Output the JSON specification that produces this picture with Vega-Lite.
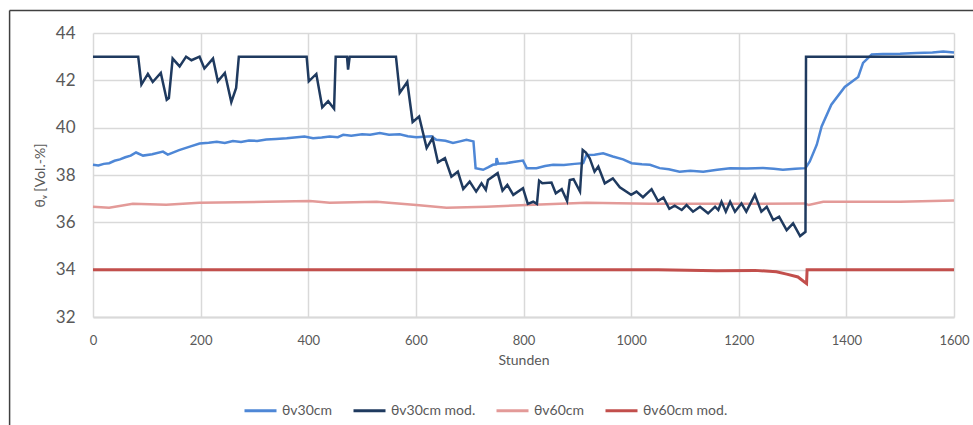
{
  "$schema": "https://vega.github.io/schema/vega-lite/v6.json",
  "width": 861,
  "height": 284,
  "autosize": {"type": "none"},
  "padding": {"left": 93, "top": 33, "right": 19, "bottom": 108},
  "background": "white",
  "config": {
    "font": "Lato",
    "view": {"stroke": null},
    "axisX": {
      "grid": true, "gridColor": "#d9d9d9", "gridWidth": 1.5,
      "domainColor": "#d9d9d9", "domainWidth": 2, "ticks": false,
      "labelColor": "#595959", "labelFontSize": 13, "labelPadding": 17, "labelFlush": false,
      "titleColor": "#595959", "titleFontSize": 14, "titleFontWeight": "normal", "titlePadding": 6
    },
    "axisY": {
      "grid": true, "gridColor": "#d9d9d9", "gridWidth": 1.5,
      "domain": false, "ticks": false,
      "labelColor": "#595959", "labelFontSize": 17, "labelPadding": 18,
      "titleColor": "#595959", "titleFontSize": 14, "titleFontWeight": "normal", "titlePadding": 8
    },
    "legend": {
      "orient": "none", "legendX": 150, "legendY": 360, "direction": "horizontal",
      "symbolType": "stroke", "symbolSize": 1024, "symbolStrokeWidth": 3,
      "labelFontSize": 14, "labelColor": "#595959", "labelOffset": 4, "columnPadding": 14
    }
  },
  "data": {"values": [
    {"s": "θv30cm mod.", "h": 0, "v": 43.0},
    {"s": "θv30cm mod.", "h": 84, "v": 43.0},
    {"s": "θv30cm mod.", "h": 90, "v": 41.82},
    {"s": "θv30cm mod.", "h": 102, "v": 42.27},
    {"s": "θv30cm mod.", "h": 111, "v": 41.93},
    {"s": "θv30cm mod.", "h": 126, "v": 42.31},
    {"s": "θv30cm mod.", "h": 137, "v": 41.18},
    {"s": "θv30cm mod.", "h": 141, "v": 41.25},
    {"s": "θv30cm mod.", "h": 148, "v": 42.92},
    {"s": "θv30cm mod.", "h": 161, "v": 42.59},
    {"s": "θv30cm mod.", "h": 173, "v": 43.0},
    {"s": "θv30cm mod.", "h": 183, "v": 42.85},
    {"s": "θv30cm mod.", "h": 198, "v": 43.0},
    {"s": "θv30cm mod.", "h": 207, "v": 42.5},
    {"s": "θv30cm mod.", "h": 223, "v": 42.92},
    {"s": "θv30cm mod.", "h": 232, "v": 41.96},
    {"s": "θv30cm mod.", "h": 245, "v": 42.31},
    {"s": "θv30cm mod.", "h": 257, "v": 41.08},
    {"s": "θv30cm mod.", "h": 266, "v": 41.68},
    {"s": "θv30cm mod.", "h": 271, "v": 43.0},
    {"s": "θv30cm mod.", "h": 397, "v": 43.0},
    {"s": "θv30cm mod.", "h": 401, "v": 41.96},
    {"s": "θv30cm mod.", "h": 415, "v": 42.27},
    {"s": "θv30cm mod.", "h": 426, "v": 40.86},
    {"s": "θv30cm mod.", "h": 437, "v": 41.12},
    {"s": "θv30cm mod.", "h": 448, "v": 40.8},
    {"s": "θv30cm mod.", "h": 451, "v": 43.0},
    {"s": "θv30cm mod.", "h": 472, "v": 43.0},
    {"s": "θv30cm mod.", "h": 474, "v": 42.45},
    {"s": "θv30cm mod.", "h": 477, "v": 43.0},
    {"s": "θv30cm mod.", "h": 563, "v": 43.0},
    {"s": "θv30cm mod.", "h": 570, "v": 41.47},
    {"s": "θv30cm mod.", "h": 584, "v": 41.93},
    {"s": "θv30cm mod.", "h": 594, "v": 40.24},
    {"s": "θv30cm mod.", "h": 606, "v": 40.47},
    {"s": "θv30cm mod.", "h": 620, "v": 39.14},
    {"s": "θv30cm mod.", "h": 631, "v": 39.56},
    {"s": "θv30cm mod.", "h": 641, "v": 38.54},
    {"s": "θv30cm mod.", "h": 654, "v": 38.71},
    {"s": "θv30cm mod.", "h": 666, "v": 37.93},
    {"s": "θv30cm mod.", "h": 678, "v": 38.14},
    {"s": "θv30cm mod.", "h": 688, "v": 37.41},
    {"s": "θv30cm mod.", "h": 700, "v": 37.72},
    {"s": "θv30cm mod.", "h": 712, "v": 37.3},
    {"s": "θv30cm mod.", "h": 722, "v": 37.65},
    {"s": "θv30cm mod.", "h": 730, "v": 37.37},
    {"s": "θv30cm mod.", "h": 734, "v": 37.79},
    {"s": "θv30cm mod.", "h": 752, "v": 38.08},
    {"s": "θv30cm mod.", "h": 761, "v": 37.34},
    {"s": "θv30cm mod.", "h": 770, "v": 37.58},
    {"s": "θv30cm mod.", "h": 781, "v": 37.16},
    {"s": "θv30cm mod.", "h": 799, "v": 37.44},
    {"s": "θv30cm mod.", "h": 808, "v": 36.78},
    {"s": "θv30cm mod.", "h": 818, "v": 36.87},
    {"s": "θv30cm mod.", "h": 825, "v": 36.78},
    {"s": "θv30cm mod.", "h": 829, "v": 37.76},
    {"s": "θv30cm mod.", "h": 835, "v": 37.65},
    {"s": "θv30cm mod.", "h": 852, "v": 37.68},
    {"s": "θv30cm mod.", "h": 860, "v": 37.23},
    {"s": "θv30cm mod.", "h": 871, "v": 37.4},
    {"s": "θv30cm mod.", "h": 881, "v": 36.9},
    {"s": "θv30cm mod.", "h": 886, "v": 37.79},
    {"s": "θv30cm mod.", "h": 893, "v": 37.82},
    {"s": "θv30cm mod.", "h": 905, "v": 37.3},
    {"s": "θv30cm mod.", "h": 910, "v": 39.06},
    {"s": "θv30cm mod.", "h": 916, "v": 38.95},
    {"s": "θv30cm mod.", "h": 923, "v": 38.71},
    {"s": "θv30cm mod.", "h": 932, "v": 38.14},
    {"s": "θv30cm mod.", "h": 939, "v": 38.36},
    {"s": "θv30cm mod.", "h": 951, "v": 37.65},
    {"s": "θv30cm mod.", "h": 966, "v": 37.86},
    {"s": "θv30cm mod.", "h": 979, "v": 37.48},
    {"s": "θv30cm mod.", "h": 1000, "v": 37.16},
    {"s": "θv30cm mod.", "h": 1010, "v": 37.3},
    {"s": "θv30cm mod.", "h": 1022, "v": 37.06},
    {"s": "θv30cm mod.", "h": 1038, "v": 37.4},
    {"s": "θv30cm mod.", "h": 1050, "v": 36.9},
    {"s": "θv30cm mod.", "h": 1060, "v": 37.05},
    {"s": "θv30cm mod.", "h": 1071, "v": 36.57},
    {"s": "θv30cm mod.", "h": 1081, "v": 36.7},
    {"s": "θv30cm mod.", "h": 1094, "v": 36.52},
    {"s": "θv30cm mod.", "h": 1103, "v": 36.73},
    {"s": "θv30cm mod.", "h": 1115, "v": 36.45},
    {"s": "θv30cm mod.", "h": 1128, "v": 36.66},
    {"s": "θv30cm mod.", "h": 1143, "v": 36.38},
    {"s": "θv30cm mod.", "h": 1156, "v": 36.66},
    {"s": "θv30cm mod.", "h": 1162, "v": 36.52},
    {"s": "θv30cm mod.", "h": 1168, "v": 36.87},
    {"s": "θv30cm mod.", "h": 1176, "v": 36.45},
    {"s": "θv30cm mod.", "h": 1184, "v": 36.87},
    {"s": "θv30cm mod.", "h": 1193, "v": 36.45},
    {"s": "θv30cm mod.", "h": 1205, "v": 36.8},
    {"s": "θv30cm mod.", "h": 1214, "v": 36.45},
    {"s": "θv30cm mod.", "h": 1230, "v": 37.16},
    {"s": "θv30cm mod.", "h": 1242, "v": 36.45},
    {"s": "θv30cm mod.", "h": 1252, "v": 36.66},
    {"s": "θv30cm mod.", "h": 1264, "v": 36.1},
    {"s": "θv30cm mod.", "h": 1275, "v": 36.24},
    {"s": "θv30cm mod.", "h": 1289, "v": 35.67},
    {"s": "θv30cm mod.", "h": 1301, "v": 35.96},
    {"s": "θv30cm mod.", "h": 1314, "v": 35.42},
    {"s": "θv30cm mod.", "h": 1324, "v": 35.6},
    {"s": "θv30cm mod.", "h": 1325, "v": 43.0},
    {"s": "θv30cm mod.", "h": 1600, "v": 43.0},

    {"s": "θv30cm", "h": 0, "v": 38.43},
    {"s": "θv30cm", "h": 10, "v": 38.4},
    {"s": "θv30cm", "h": 20, "v": 38.47},
    {"s": "θv30cm", "h": 30, "v": 38.5},
    {"s": "θv30cm", "h": 40, "v": 38.6},
    {"s": "θv30cm", "h": 50, "v": 38.66},
    {"s": "θv30cm", "h": 60, "v": 38.75},
    {"s": "θv30cm", "h": 70, "v": 38.82},
    {"s": "θv30cm", "h": 80, "v": 38.95},
    {"s": "θv30cm", "h": 93, "v": 38.82},
    {"s": "θv30cm", "h": 110, "v": 38.88},
    {"s": "θv30cm", "h": 130, "v": 38.99},
    {"s": "θv30cm", "h": 139, "v": 38.86},
    {"s": "θv30cm", "h": 160, "v": 39.05},
    {"s": "θv30cm", "h": 180, "v": 39.2},
    {"s": "θv30cm", "h": 198, "v": 39.33},
    {"s": "θv30cm", "h": 215, "v": 39.36},
    {"s": "θv30cm", "h": 230, "v": 39.4},
    {"s": "θv30cm", "h": 245, "v": 39.35},
    {"s": "θv30cm", "h": 260, "v": 39.44},
    {"s": "θv30cm", "h": 275, "v": 39.4},
    {"s": "θv30cm", "h": 290, "v": 39.46},
    {"s": "θv30cm", "h": 305, "v": 39.44},
    {"s": "θv30cm", "h": 322, "v": 39.5},
    {"s": "θv30cm", "h": 340, "v": 39.52},
    {"s": "θv30cm", "h": 360, "v": 39.55},
    {"s": "θv30cm", "h": 393, "v": 39.63},
    {"s": "θv30cm", "h": 409, "v": 39.55},
    {"s": "θv30cm", "h": 425, "v": 39.58},
    {"s": "θv30cm", "h": 440, "v": 39.63},
    {"s": "θv30cm", "h": 455, "v": 39.6},
    {"s": "θv30cm", "h": 465, "v": 39.7},
    {"s": "θv30cm", "h": 480, "v": 39.66},
    {"s": "θv30cm", "h": 500, "v": 39.72},
    {"s": "θv30cm", "h": 515, "v": 39.7},
    {"s": "θv30cm", "h": 533, "v": 39.77},
    {"s": "θv30cm", "h": 550, "v": 39.7},
    {"s": "θv30cm", "h": 570, "v": 39.72},
    {"s": "θv30cm", "h": 585, "v": 39.64},
    {"s": "θv30cm", "h": 601, "v": 39.6},
    {"s": "θv30cm", "h": 615, "v": 39.62},
    {"s": "θv30cm", "h": 629, "v": 39.64},
    {"s": "θv30cm", "h": 638, "v": 39.49},
    {"s": "θv30cm", "h": 655, "v": 39.45},
    {"s": "θv30cm", "h": 669, "v": 39.35},
    {"s": "θv30cm", "h": 682, "v": 39.42},
    {"s": "θv30cm", "h": 694, "v": 39.49},
    {"s": "θv30cm", "h": 707, "v": 39.42},
    {"s": "θv30cm", "h": 711, "v": 38.29},
    {"s": "θv30cm", "h": 725, "v": 38.22},
    {"s": "θv30cm", "h": 735, "v": 38.33},
    {"s": "θv30cm", "h": 743, "v": 38.43},
    {"s": "θv30cm", "h": 749, "v": 38.45},
    {"s": "θv30cm", "h": 750, "v": 38.71},
    {"s": "θv30cm", "h": 753, "v": 38.48},
    {"s": "θv30cm", "h": 768, "v": 38.5},
    {"s": "θv30cm", "h": 781, "v": 38.55},
    {"s": "θv30cm", "h": 799, "v": 38.61},
    {"s": "θv30cm", "h": 806, "v": 38.29},
    {"s": "θv30cm", "h": 824, "v": 38.29},
    {"s": "θv30cm", "h": 840, "v": 38.38},
    {"s": "θv30cm", "h": 855, "v": 38.43},
    {"s": "θv30cm", "h": 875, "v": 38.42},
    {"s": "θv30cm", "h": 895, "v": 38.47},
    {"s": "θv30cm", "h": 911, "v": 38.5},
    {"s": "θv30cm", "h": 917, "v": 38.85},
    {"s": "θv30cm", "h": 932, "v": 38.86},
    {"s": "θv30cm", "h": 948, "v": 38.92},
    {"s": "θv30cm", "h": 966, "v": 38.78},
    {"s": "θv30cm", "h": 985, "v": 38.66},
    {"s": "θv30cm", "h": 1001, "v": 38.5},
    {"s": "θv30cm", "h": 1020, "v": 38.45},
    {"s": "θv30cm", "h": 1035, "v": 38.43},
    {"s": "θv30cm", "h": 1053, "v": 38.29},
    {"s": "θv30cm", "h": 1070, "v": 38.24},
    {"s": "θv30cm", "h": 1090, "v": 38.14},
    {"s": "θv30cm", "h": 1110, "v": 38.18},
    {"s": "θv30cm", "h": 1134, "v": 38.14},
    {"s": "θv30cm", "h": 1160, "v": 38.22},
    {"s": "θv30cm", "h": 1184, "v": 38.29},
    {"s": "θv30cm", "h": 1215, "v": 38.27},
    {"s": "θv30cm", "h": 1245, "v": 38.3},
    {"s": "θv30cm", "h": 1265, "v": 38.26},
    {"s": "θv30cm", "h": 1282, "v": 38.22},
    {"s": "θv30cm", "h": 1305, "v": 38.26},
    {"s": "θv30cm", "h": 1324, "v": 38.29},
    {"s": "θv30cm", "h": 1332, "v": 38.57},
    {"s": "θv30cm", "h": 1345, "v": 39.28},
    {"s": "θv30cm", "h": 1354, "v": 40.05},
    {"s": "θv30cm", "h": 1372, "v": 40.97},
    {"s": "θv30cm", "h": 1397, "v": 41.72},
    {"s": "θv30cm", "h": 1422, "v": 42.14},
    {"s": "θv30cm", "h": 1431, "v": 42.74},
    {"s": "θv30cm", "h": 1447, "v": 43.09},
    {"s": "θv30cm", "h": 1468, "v": 43.11},
    {"s": "θv30cm", "h": 1500, "v": 43.12},
    {"s": "θv30cm", "h": 1530, "v": 43.16},
    {"s": "θv30cm", "h": 1560, "v": 43.18},
    {"s": "θv30cm", "h": 1580, "v": 43.22},
    {"s": "θv30cm", "h": 1600, "v": 43.18},

    {"s": "θv60cm", "h": 0, "v": 36.66},
    {"s": "θv60cm", "h": 30, "v": 36.62},
    {"s": "θv60cm", "h": 74, "v": 36.78},
    {"s": "θv60cm", "h": 136, "v": 36.74},
    {"s": "θv60cm", "h": 198, "v": 36.83},
    {"s": "θv60cm", "h": 322, "v": 36.87},
    {"s": "θv60cm", "h": 403, "v": 36.9},
    {"s": "θv60cm", "h": 440, "v": 36.83},
    {"s": "θv60cm", "h": 527, "v": 36.87},
    {"s": "θv60cm", "h": 601, "v": 36.73},
    {"s": "θv60cm", "h": 657, "v": 36.62},
    {"s": "θv60cm", "h": 731, "v": 36.66},
    {"s": "θv60cm", "h": 806, "v": 36.73},
    {"s": "θv60cm", "h": 917, "v": 36.83},
    {"s": "θv60cm", "h": 1035, "v": 36.78},
    {"s": "θv60cm", "h": 1183, "v": 36.78},
    {"s": "θv60cm", "h": 1323, "v": 36.8},
    {"s": "θv60cm", "h": 1330, "v": 36.73},
    {"s": "θv60cm", "h": 1357, "v": 36.87},
    {"s": "θv60cm", "h": 1500, "v": 36.87},
    {"s": "θv60cm", "h": 1600, "v": 36.92},

    {"s": "θv60cm mod.", "h": 0, "v": 34.0},
    {"s": "θv60cm mod.", "h": 1050, "v": 34.0},
    {"s": "θv60cm mod.", "h": 1159, "v": 33.95},
    {"s": "θv60cm mod.", "h": 1230, "v": 33.97},
    {"s": "θv60cm mod.", "h": 1270, "v": 33.91},
    {"s": "θv60cm mod.", "h": 1289, "v": 33.81},
    {"s": "θv60cm mod.", "h": 1310, "v": 33.69},
    {"s": "θv60cm mod.", "h": 1326, "v": 33.41},
    {"s": "θv60cm mod.", "h": 1327, "v": 34.0},
    {"s": "θv60cm mod.", "h": 1600, "v": 34.0}
  ]},
  "layer": [
    {
      "data": {"values": [{}]},
      "mark": {"type": "rule", "color": "#404040", "strokeWidth": 1.5, "clip": false},
      "encoding": {
        "x": {"datum": -155, "type": "quantitative", "scale": {"domain": [0, 1600], "nice": false}, "title": "Stunden", "axis": {"values": [0, 200, 400, 600, 800, 1000, 1200, 1400, 1600], "format": "d"}},
        "y": {"datum": 27, "type": "quantitative", "scale": {"domain": [32, 44], "nice": false, "zero": false}, "title": "θᵥ [Vol.-%]", "axis": {"values": [32, 34, 36, 38, 40, 42, 44], "format": "d"}},
        "y2": {"datum": 44.95}
      }
    },
    {
      "data": {"values": [{}]},
      "mark": {"type": "rule", "color": "#404040", "strokeWidth": 1.5, "clip": false},
      "encoding": {
        "x": {"datum": -155, "type": "quantitative", "scale": {"domain": [0, 1600], "nice": false}, "title": "Stunden", "axis": {"values": [0, 200, 400, 600, 800, 1000, 1200, 1400, 1600], "format": "d"}},
        "x2": {"datum": 1650},
        "y": {"datum": 44.95, "type": "quantitative", "scale": {"domain": [32, 44], "nice": false, "zero": false}, "title": "θᵥ [Vol.-%]", "axis": {"values": [32, 34, 36, 38, 40, 42, 44], "format": "d"}}
      }
    },
    {
      "transform": [{"filter": "datum.s === 'θv30cm'"}],
      "mark": {"type": "line", "strokeWidth": 2.5},
      "encoding": {
        "x": {"field": "h", "type": "quantitative", "scale": {"domain": [0, 1600], "nice": false}, "title": "Stunden", "axis": {"values": [0, 200, 400, 600, 800, 1000, 1200, 1400, 1600], "format": "d"}},
        "y": {"field": "v", "type": "quantitative", "scale": {"domain": [32, 44], "nice": false, "zero": false}, "title": "θᵥ [Vol.-%]", "axis": {"values": [32, 34, 36, 38, 40, 42, 44], "format": "d"}},
        "color": {"field": "s", "type": "nominal", "title": null,
          "scale": {"domain": ["θv30cm", "θv30cm mod.", "θv60cm", "θv60cm mod."], "range": ["#4e87d6", "#1f3a5f", "#e39a98", "#c24f4c"]}}
      }
    },
    {
      "transform": [{"filter": "datum.s === 'θv60cm'"}],
      "mark": {"type": "line", "strokeWidth": 2.5},
      "encoding": {
        "x": {"field": "h", "type": "quantitative", "scale": {"domain": [0, 1600], "nice": false}, "title": "Stunden", "axis": {"values": [0, 200, 400, 600, 800, 1000, 1200, 1400, 1600], "format": "d"}},
        "y": {"field": "v", "type": "quantitative", "scale": {"domain": [32, 44], "nice": false, "zero": false}, "title": "θᵥ [Vol.-%]", "axis": {"values": [32, 34, 36, 38, 40, 42, 44], "format": "d"}},
        "color": {"field": "s", "type": "nominal", "title": null}
      }
    },
    {
      "transform": [{"filter": "datum.s === 'θv60cm mod.'"}],
      "mark": {"type": "line", "strokeWidth": 3},
      "encoding": {
        "x": {"field": "h", "type": "quantitative", "scale": {"domain": [0, 1600], "nice": false}, "title": "Stunden", "axis": {"values": [0, 200, 400, 600, 800, 1000, 1200, 1400, 1600], "format": "d"}},
        "y": {"field": "v", "type": "quantitative", "scale": {"domain": [32, 44], "nice": false, "zero": false}, "title": "θᵥ [Vol.-%]", "axis": {"values": [32, 34, 36, 38, 40, 42, 44], "format": "d"}},
        "color": {"field": "s", "type": "nominal", "title": null}
      }
    },
    {
      "transform": [{"filter": "datum.s === 'θv30cm mod.'"}],
      "mark": {"type": "line", "strokeWidth": 2.5},
      "encoding": {
        "x": {"field": "h", "type": "quantitative", "scale": {"domain": [0, 1600], "nice": false}, "title": "Stunden", "axis": {"values": [0, 200, 400, 600, 800, 1000, 1200, 1400, 1600], "format": "d"}},
        "y": {"field": "v", "type": "quantitative", "scale": {"domain": [32, 44], "nice": false, "zero": false}, "title": "θᵥ [Vol.-%]", "axis": {"values": [32, 34, 36, 38, 40, 42, 44], "format": "d"}},
        "color": {"field": "s", "type": "nominal", "title": null}
      }
    }
  ]
}
